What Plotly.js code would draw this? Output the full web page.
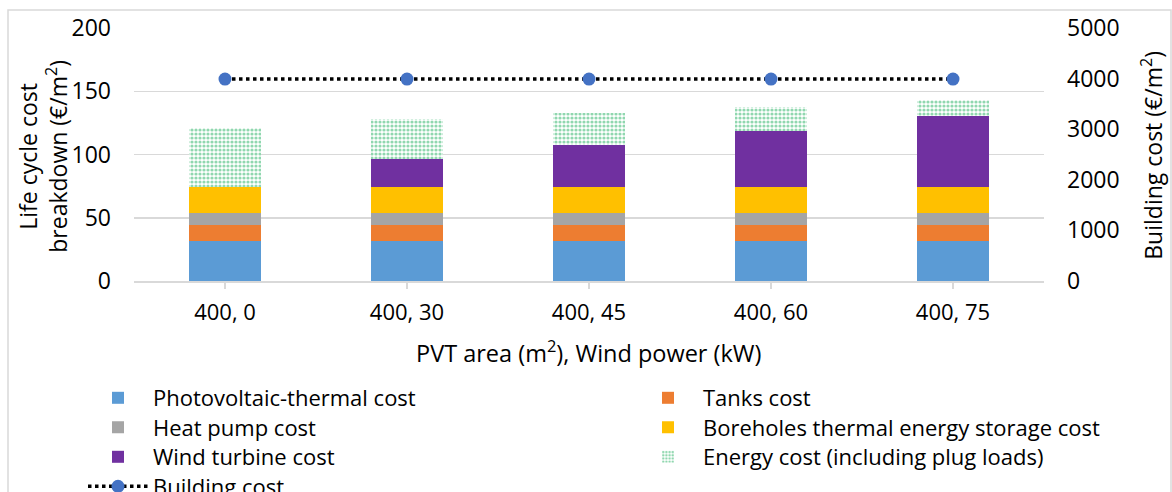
<!DOCTYPE html>
<html><head><meta charset="utf-8">
<script src="https://cdn.plot.ly/plotly-3.0.1.min.js"></script>
<style>html,body{margin:0;padding:0;background:#fff}#c{width:1172px;height:492px}</style>
</head><body><div id="c"></div>
<script>
const categories = ["400, 0", "400, 30", "400, 45", "400, 60", "400, 75"];
const pvtCost = [32, 32, 32, 32, 32];
const tanksCost = [12.5, 12.5, 12.5, 12.5, 12.5];
const heatPumpCost = [9.5, 9.5, 9.5, 9.5, 9.5];
const boreholeCost = [20, 20, 20, 20, 20];
const windCost = [0, 22.5, 33.5, 44.5, 56.5];
const energyCost = [47, 31.5, 25, 19, 12.5];
const buildingCost = [3990, 3990, 3990, 3990, 3990];

const font = "'Open Sans', sans-serif";
function bar(name, y, color, lg, extra) {
  return Object.assign({type:'bar', name:name, x:categories, y:y, legend:lg,
    marker:{color:color, line:{width:0}}, hoverinfo:'y'}, extra||{});
}
const traces = [
  bar('Photovoltaic-thermal cost', pvtCost, '#5B9BD5', 'legend'),
  bar('Tanks cost', tanksCost, '#ED7D31', 'legend2'),
  bar('Heat pump cost', heatPumpCost, '#A5A5A5', 'legend3'),
  bar('Boreholes thermal energy storage cost', boreholeCost, '#FFC000', 'legend4'),
  bar('Wind turbine cost', windCost, '#7030A0', 'legend5'),
  {type:'bar', name:'Energy cost (including plug loads)', x:categories, y:energyCost, legend:'legend6',
   marker:{color:'#ffffff', line:{width:0},
     pattern:{shape:'.', fgcolor:'#22B060', bgcolor:'#ffffff', size:4, solidity:0.5, fillmode:'overlay'}}},
  {type:'scatter', mode:'lines+markers', name:'Building cost', x:categories, y:buildingCost, yaxis:'y2', legend:'legend7',
   line:{color:'#000000', width:3.5, dash:'dot'},
   marker:{color:'#4472C4', size:13}}
];
function lg(xLeft, yCenter) {
  return {orientation:'v', xref:'container', yref:'container', xanchor:'left', yanchor:'top',
    x:xLeft/1172, y:1-(yCenter-21)/492,
    tracegroupgap:0, itemwidth:60, font:{family:font, size:22, color:'#000'}, traceorder:'normal',
    bgcolor:'rgba(0,0,0,0)', valign:'middle'};
}
const titleFont = {family:font, size:23, color:'#000'};
const layout = {
  width:1172, height:492,
  margin:{l:134, r:128, t:28, b:210.5, autoexpand:false},
  paper_bgcolor:'#fff', plot_bgcolor:'#fff',
  barmode:'stack', bargap:0.6,
  font:{family:font, size:23, color:'#000'},
  showlegend:true,
  xaxis:{type:'category', categoryarray:categories, range:[-0.5,4.5],
    showgrid:false, showline:true, linecolor:'#d9d9d9', linewidth:1.5,
    ticks:'outside', ticklen:6, tickcolor:'#d9d9d9', tickwidth:1.5,
    tickfont:{family:font, size:22}, ticklabelstandoff:5},
  xaxis2:{type:'category', categoryarray:categories, range:[-0.5,4.5], overlaying:'x',
    anchor:'y', side:'bottom', showgrid:false, showticklabels:false, tickson:'boundaries',
    ticks:'outside', ticklen:6, tickcolor:'#d9d9d9', tickwidth:1.5, matches:'x'},
  yaxis:{range:[0,200], dtick:50, showgrid:true, gridcolor:'#d9d9d9', gridwidth:1.5,
    zeroline:false, ticks:'', tickfont:{family:font, size:23}, ticklabelstandoff:22},
  yaxis2:{range:[0,5000], dtick:1000, overlaying:'y', side:'right', showgrid:false,
    zeroline:false, ticks:'', tickfont:{family:font, size:23}, ticklabelstandoff:22},
  annotations:[
    {text:'Life cycle cost<br>breakdown (€/m<sup>2</sup>)', xref:'paper', yref:'paper',
     x:(43-134)/910, y:(281.5-157)/253.5, textangle:-90, showarrow:false, font:titleFont,
     xanchor:'center', yanchor:'middle'},
    {text:'Building cost (€/m<sup>2</sup>)', xref:'paper', yref:'paper',
     x:(1152-134)/910, y:(281.5-156)/253.5, textangle:-90, showarrow:false, font:titleFont,
     xanchor:'center', yanchor:'middle'},
    {text:'PVT area (m<sup>2</sup>), Wind power (kW)', xref:'paper', yref:'paper',
     x:(589-134)/910, y:(281.5-352)/253.5, showarrow:false, font:{family:font, size:23.5, color:'#000'},
     xanchor:'center', yanchor:'middle'}
  ],
  legend:lg(83, 398),
  legend2:lg(633, 398),
  legend3:lg(83, 427.5),
  legend4:lg(633, 427.5),
  legend5:lg(83, 457),
  legend6:lg(633, 457),
  legend7:lg(83, 486.5),
  shapes:[{type:'rect', xref:'paper', yref:'paper', x0:(8-134)/910, x1:(1171-134)/910, y0:-1, y1:1+18/253.5,
    line:{color:'#d9d9d9', width:1.5}, fillcolor:'rgba(0,0,0,0)', layer:'below'}]
};
Plotly.newPlot('c', traces, layout, {displayModeBar:false, staticPlot:true});
</script></body></html>
